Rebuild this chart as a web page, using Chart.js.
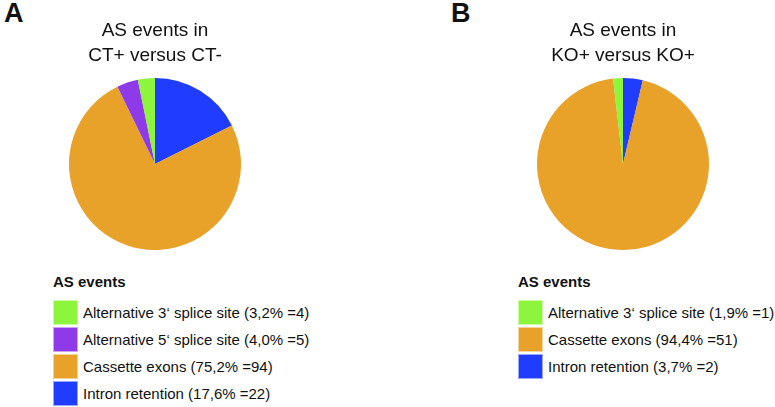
<!DOCTYPE html>
<html>
<head>
<meta charset="utf-8">
<script src="https://cdn.jsdelivr.net/npm/chart.js@4/dist/chart.umd.min.js"></script>
<style>
  body { margin: 0; background: #fff; font-family: "Liberation Sans", Arial, sans-serif; color: #111; }
  #wrap { position: relative; width: 775px; height: 407px; overflow: hidden; }
  canvas { position: absolute; top: 0; }
  .panel { position: absolute; font-weight: bold; font-size: 27px; line-height: 27px; }
  .legend { position: absolute; top: 273px; font-size: 15px; }
  .legend h4 { margin: 0 0 9px 0; font-size: 15px; line-height: 18px; font-weight: bold; }
  .row { display: flex; align-items: center; height: 27px; }
  .sw { width: 25px; height: 25px; box-sizing: border-box; border: 1px solid rgba(255,255,255,0.55); margin-right: 5px; margin-bottom: 2px; }
  .row span { margin-bottom: 2px; }
</style>
</head>
<body>
<div id="wrap">
  <div class="panel" style="left:4px; top:0px;">A</div>
  <div class="panel" style="left:451px; top:0px;">B</div>
  <canvas id="chartA" width="310" height="250" style="left:0px;"></canvas>
  <canvas id="chartB" width="310" height="250" style="left:468px;"></canvas>
  <div class="legend" id="legendA" style="left:53px;"></div>
  <div class="legend" id="legendB" style="left:518px;"></div>
</div>
<script>
// panel A: CT+ versus CT-
const labelsA = ['Alternative 3\u2018 splice site', 'Alternative 5\u2018 splice site', 'Cassette exons', 'Intron retention']
const countsA = [4, 5, 94, 22]
const pctA = ['3,2', '4,0', '75,2', '17,6']
const colorsA = ['#8cf53c', '#8f3ae9', '#e9a229', '#1f3cff']

// panel B: KO+ versus KO+
const labelsB = ['Alternative 3\u2018 splice site', 'Cassette exons', 'Intron retention']
const countsB = [1, 51, 2]
const pctB = ['1,9', '94,4', '3,7']
const colorsB = ['#8cf53c', '#e9a229', '#1f3cff']

const titleA = ['AS events in', 'CT+ versus CT-']
const titleB = ['AS events in', 'KO+ versus KO+']
const legendTitle = 'AS events'

const FONT = '"Liberation Sans", Arial, sans-serif'

const makePie = (id, labels, counts, colors, title) => {
	// slices go clockwise from 12 o'clock in reverse legend order
	return new Chart(document.getElementById(id), {
		type: 'pie',
		data: {
			labels: labels.slice().reverse(),
			datasets: [
				{
					data: counts.slice().reverse(),
					backgroundColor: colors.slice().reverse(),
					borderWidth: 0,
				},
			],
		},
		options: {
			responsive: false,
			animation: false,
			devicePixelRatio: 1,
			layout: { padding: 0 },
			plugins: {
				legend: { display: false },
				tooltip: { enabled: false },
				title: {
					display: true,
					text: title,
					color: '#111',
					font: { family: FONT, size: 19, weight: 'normal', lineHeight: 25 / 19 },
					padding: { top: 18, bottom: 10 },
				},
			},
		},
	})
}

const makeLegend = (id, labels, counts, pcts, colors) => {
	const el = document.getElementById(id)
	let html = '<h4>' + legendTitle + '</h4>'
	labels.forEach((l, i) => {
		html += '<div class="row"><div class="sw" style="background:' + colors[i] + '"></div>' +
			'<span>' + l + ' (' + pcts[i] + '% =' + counts[i] + ')</span></div>'
	})
	el.innerHTML = html
}

makePie('chartA', labelsA, countsA, colorsA, titleA)
makePie('chartB', labelsB, countsB, colorsB, titleB)
makeLegend('legendA', labelsA, countsA, pctA, colorsA)
makeLegend('legendB', labelsB, countsB, pctB, colorsB)
</script>
</body>
</html>
